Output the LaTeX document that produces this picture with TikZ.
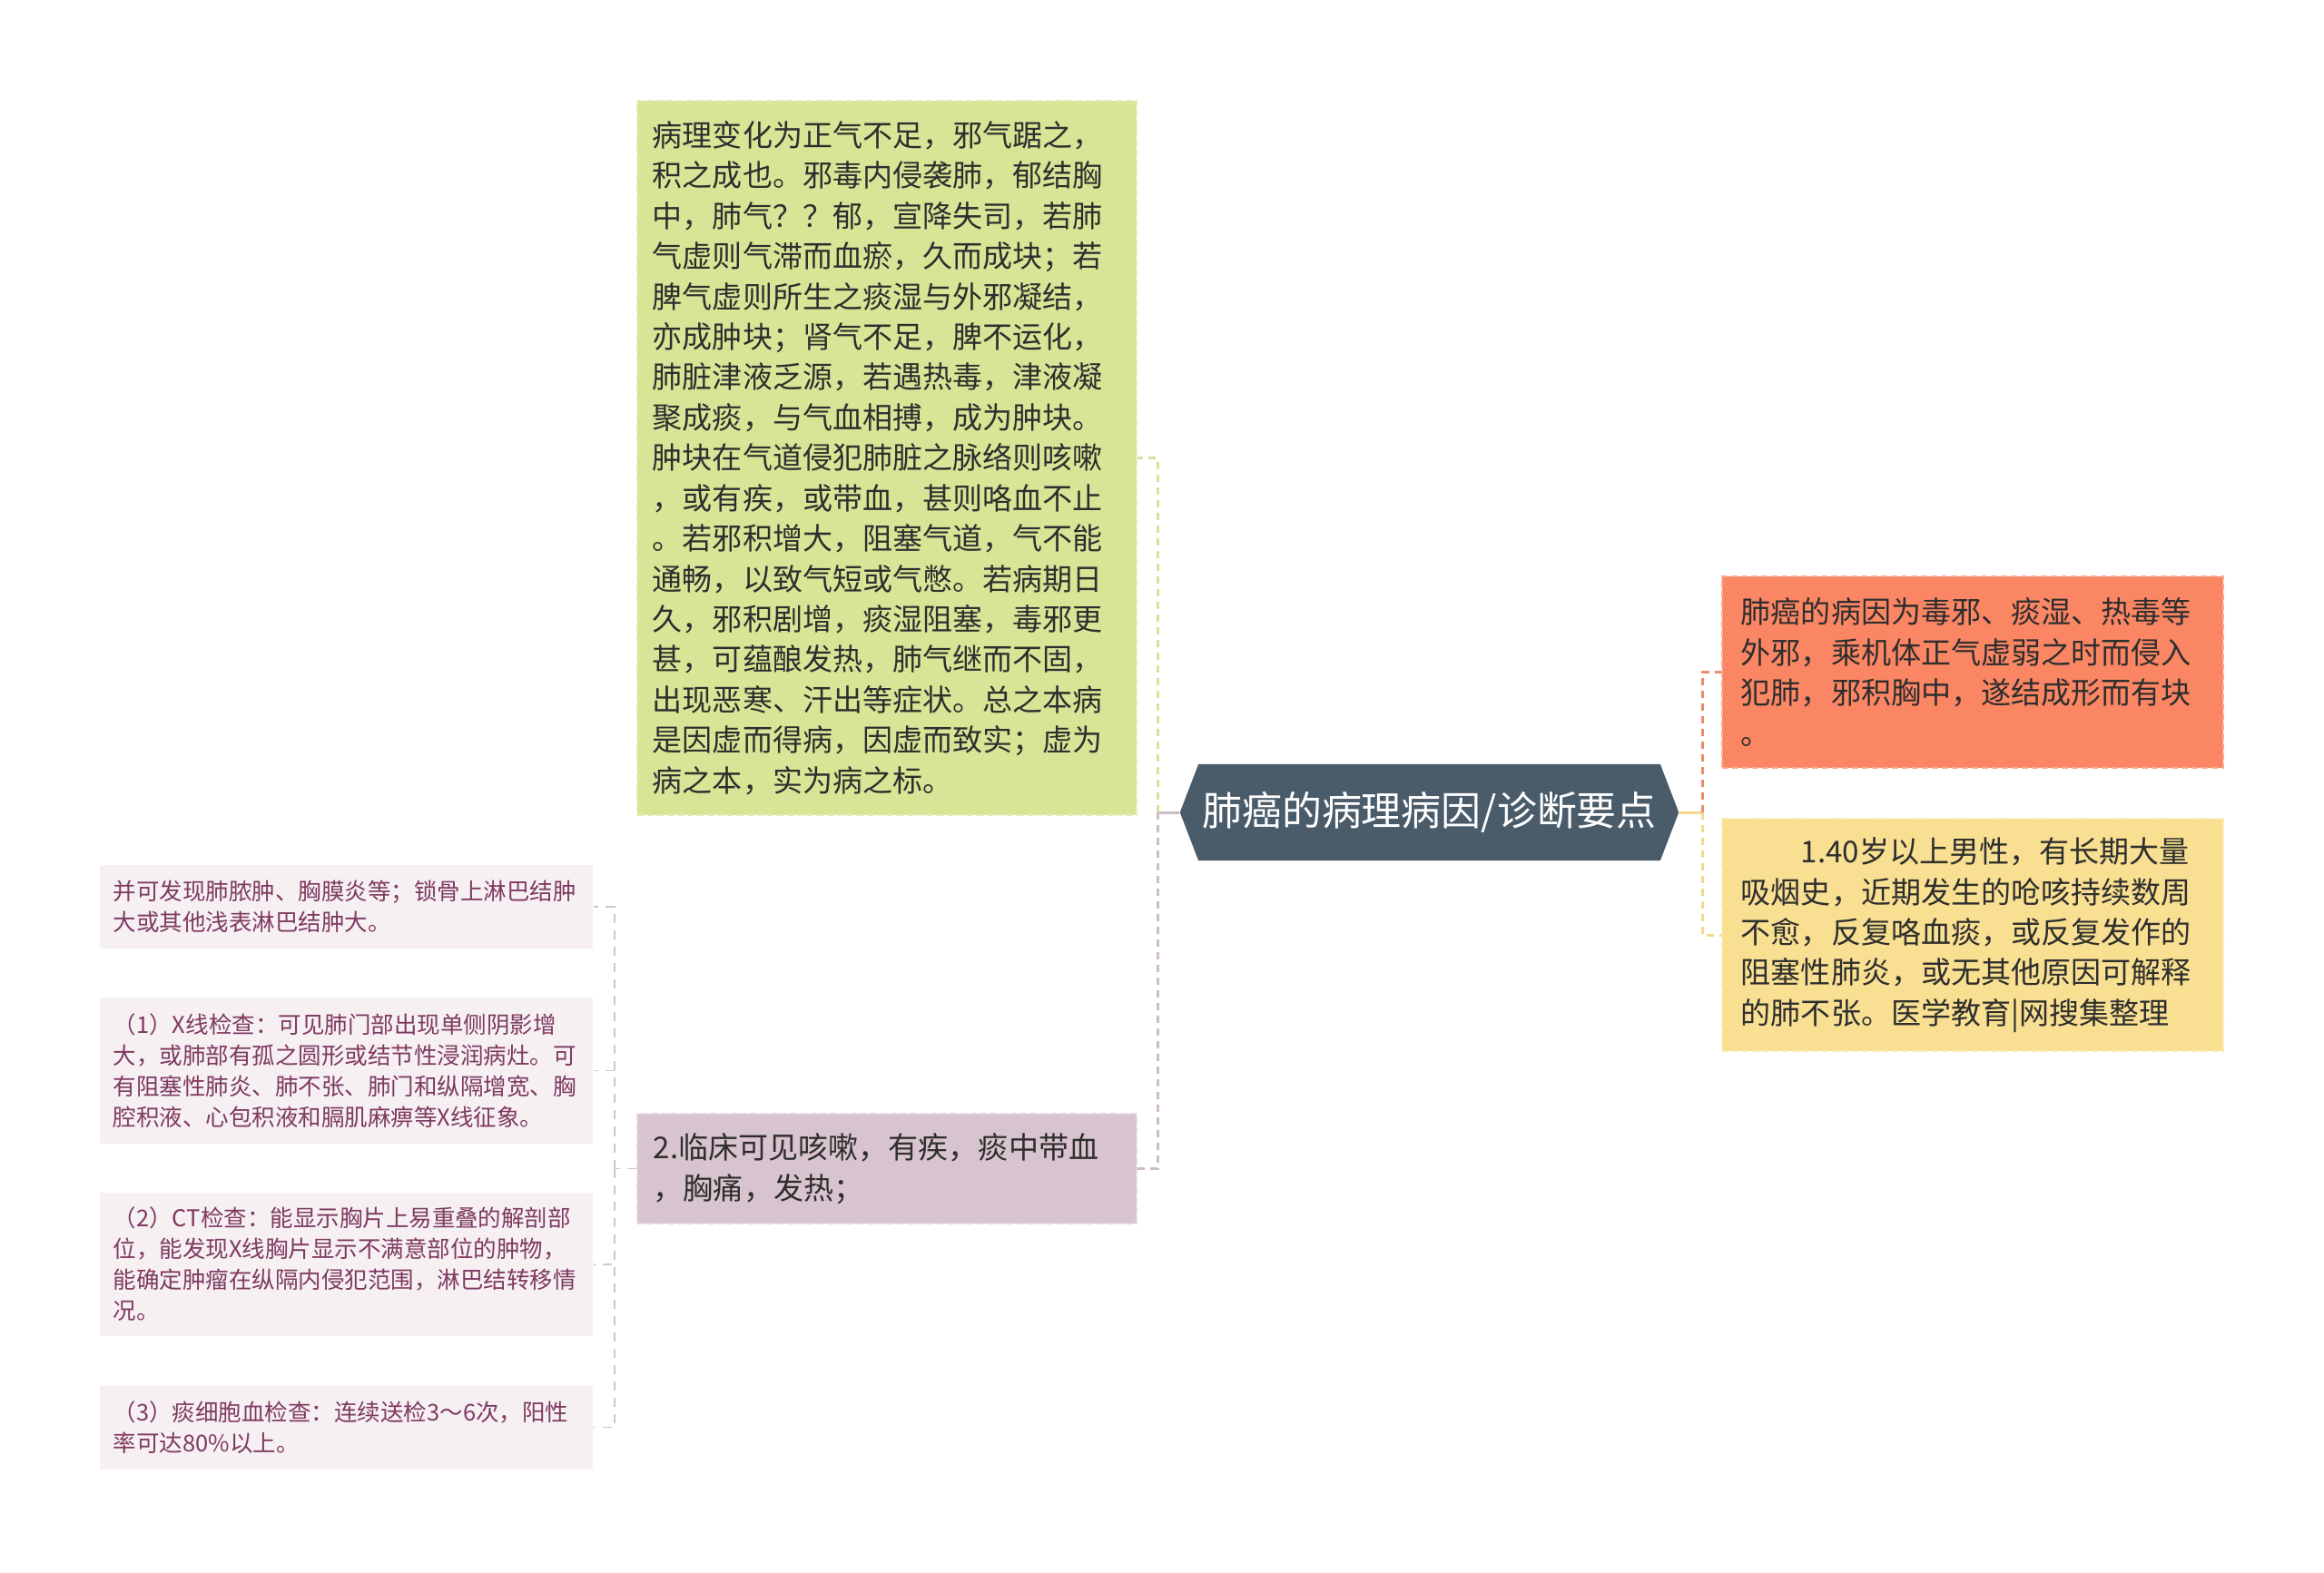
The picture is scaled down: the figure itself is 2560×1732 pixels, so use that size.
\documentclass[tikz,border=0pt]{standalone}
\usepackage{fontspec}
\usepackage{tikz}
\usetikzlibrary{calc, positioning, shapes.symbols}

\newfontfamily\cjk{Noto Sans CJK SC}

\definecolor{hubfill}{HTML}{4A5B6A}
\definecolor{genfill}{HTML}{D6E696}
\definecolor{causefill}{HTML}{FA8664}
\definecolor{diagfill}{HTML}{F8DF91}
\definecolor{symfill}{HTML}{D8C4CE}
\definecolor{examfill}{HTML}{F6F0F3}
\definecolor{examtext}{HTML}{7E3A60}
\definecolor{bodytext}{HTML}{2E2E2E}
\definecolor{genline}{HTML}{D3E39A}
\definecolor{symline}{HTML}{CDBCC6}
\definecolor{causeline}{HTML}{EE8A6C}
\definecolor{diagline}{HTML}{F4D98C}
\definecolor{twiggray}{HTML}{C9C9C9}

\tikzset{
  hub/.style={shape=signal, signal to=west and east, signal pointer angle=138,
    fill=hubfill, text=white, inner xsep=0.04cm, minimum height=1.06cm,
    font=\cjk\fontsize{12.5pt}{15pt}\selectfont},
  leaf/.style={fill=#1, draw=#1!70!white, dash pattern=on 0.07cm off 0.04cm,
    line width=0.02cm, inner sep=0pt, align=left, text=bodytext,
    font=\cjk\fontsize{9.4pt}{12.63pt}\selectfont},
  exam/.style={fill=examfill, inner sep=0pt, align=left, text=examtext,
    text width=5.13cm, minimum width=5.43cm,
    font=\cjk\fontsize{7.25pt}{9.67pt}\selectfont},
  branch/.style={draw=#1, line width=0.03cm, dash pattern=on 0.08cm off 0.06cm},
  stub/.style={draw=#1, line width=0.03cm},
  twig/.style={draw=twiggray, line width=0.015cm, dash pattern=on 0.1cm off 0.08cm}
}

\begin{document}
\begin{tikzpicture}[x=0.01cm, y=-0.01cm]
  \useasboundingbox (0,0) rectangle (2560,1732);

  \node[hub] (hub) at (1574.5,895) {肺癌的病理病因/诊断要点};

  % left branches
  \node[leaf=genfill, text width=5.16cm, minimum width=5.5cm, minimum height=7.87cm] (gen) at (977,504.5) {病理变化为正气不足，邪气踞之，\\
积之成也。邪毒内侵袭肺，郁结胸\\
中，肺气？？郁，宣降失司，若肺\\
气虚则气滞而血瘀，久而成块；若\\
脾气虚则所生之痰湿与外邪凝结，\\
亦成肿块；肾气不足，脾不运化，\\
肺脏津液乏源，若遇热毒，津液凝\\
聚成痰，与气血相搏，成为肿块。\\
肿块在气道侵犯肺脏之脉络则咳嗽\\
，或有疾，或带血，甚则咯血不止\\
。若邪积增大，阻塞气道，气不能\\
通畅，以致气短或气憋。若病期日\\
久，邪积剧增，痰湿阻塞，毒邪更\\
甚，可蕴酿发热，肺气继而不固，\\
出现恶寒、汗出等症状。总之本病\\
是因虚而得病，因虚而致实；虚为\\
病之本，实为病之标。};
  \node[leaf=symfill, text width=5.14cm, minimum width=5.5cm, minimum height=1.21cm] (sym) at (977,1287.5) {2.临床可见咳嗽，有疾，痰中带血\\
，胸痛，发热；};

  % right branches
  \node[leaf=causefill, text width=5.1cm, minimum width=5.52cm, minimum height=2.11cm] (cause) at (2173,740.5) {肺癌的病因为毒邪、痰湿、热毒等\\
外邪，乘机体正气虚弱之时而侵入\\
犯肺，邪积胸中，遂结成形而有块\\
。};
  \node[leaf=diagfill, text width=5.1cm, minimum width=5.52cm, minimum height=2.56cm, below=0.54cm of cause] (diag) {\hspace*{2em}1.40岁以上男性，有长期大量\\
吸烟史，近期发生的呛咳持续数周\\
不愈，反复咯血痰，或反复发作的\\
阻塞性肺炎，或无其他原因可解释\\
的肺不张。医学教育|网搜集整理};

  % examinations
  \node[exam, minimum height=0.92cm] (extra) at (381.5,999) {并可发现肺脓肿、胸膜炎等；锁骨上淋巴结肿\\
大或其他浅表淋巴结肿大。};
  \node[exam, minimum height=1.6cm, below=0.53cm of extra] (xray) {（1）X线检查：可见肺门部出现单侧阴影增\\
大，或肺部有孤之圆形或结节性浸润病灶。可\\
有阻塞性肺炎、肺不张、肺门和纵隔增宽、胸\\
腔积液、心包积液和膈肌麻痹等X线征象。};
  \node[exam, minimum height=1.58cm, below=0.53cm of xray] (ct) {（2）CT检查：能显示胸片上易重叠的解剖部\\
位，能发现X线胸片显示不满意部位的肿物，\\
能确定肿瘤在纵隔内侵犯范围，淋巴结转移情\\
况。};
  \node[exam, minimum height=0.92cm, below=0.53cm of ct] (sputum) {（3）痰细胞血检查：连续送检3～6次，阳性\\
率可达80\%以上。};

  % connectors
  \coordinate (lj) at (1275,895);
  \coordinate (rj) at (1875,895);
  \coordinate (sj) at (677,1287.5);
  \draw[stub=symline] (hub.west) -- (lj);
  \draw[branch=genline] (lj) |- (gen.east);
  \draw[branch=symline] (lj) |- (sym.east);
  \draw[stub=diagline] (hub.east) -- (rj);
  \draw[branch=causeline] (rj) |- (cause.west);
  \draw[branch=diagline] (rj) |- (diag.west);
  \draw[twig] (sym.west) -- (sj);
  \foreach \n in {extra, xray, ct, sputum}
    \draw[twig] (sj) |- (\n.east);
\end{tikzpicture}
\end{document}
